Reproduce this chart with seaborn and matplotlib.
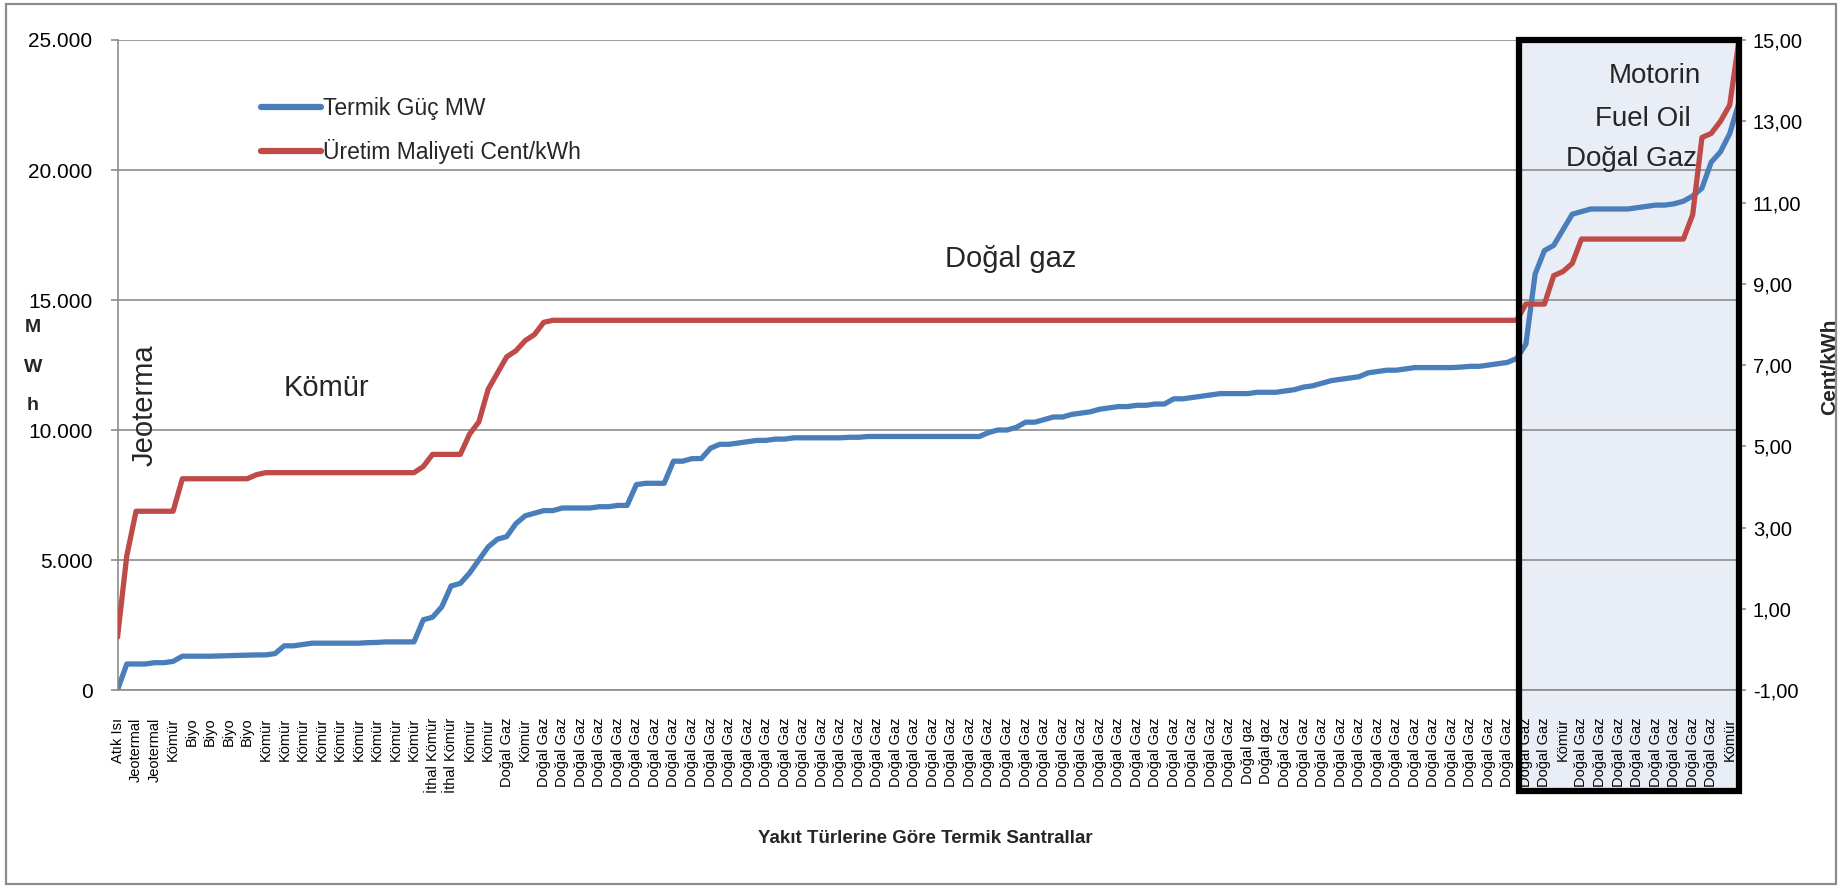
import numpy as np
import pandas as pd
import matplotlib
matplotlib.use("Agg")
import matplotlib.pyplot as plt
import seaborn as sns
from matplotlib.patches import Rectangle
from matplotlib.lines import Line2D
from matplotlib.ticker import FuncFormatter, FixedLocator

# ---------------- data ----------------
plant_labels = [
    "Atık Isı", "Jeotermal", "Jeotermal", "Kömür", "Biyo", "Biyo", "Biyo", "Biyo",
    "Kömür", "Kömür", "Kömür", "Kömür", "Kömür", "Kömür", "Kömür", "Kömür", "Kömür",
    "İthal Kömür", "İthal Kömür", "Kömür", "Kömür", "Doğal Gaz", "Kömür",
    "Doğal Gaz", "Doğal Gaz", "Doğal Gaz", "Doğal Gaz", "Doğal Gaz", "Doğal Gaz", "Doğal Gaz",
    "Doğal Gaz", "Doğal Gaz", "Doğal Gaz", "Doğal Gaz", "Doğal Gaz", "Doğal Gaz", "Doğal Gaz",
    "Doğal Gaz", "Doğal Gaz", "Doğal Gaz", "Doğal Gaz", "Doğal Gaz", "Doğal Gaz", "Doğal Gaz",
    "Doğal Gaz", "Doğal Gaz", "Doğal Gaz", "Doğal Gaz", "Doğal Gaz", "Doğal Gaz", "Doğal Gaz",
    "Doğal Gaz", "Doğal Gaz", "Doğal Gaz", "Doğal Gaz", "Doğal Gaz", "Doğal Gaz", "Doğal Gaz",
    "Doğal Gaz", "Doğal Gaz", "Doğal Gaz",
    "Doğal gaz", "Doğal gaz",
    "Doğal Gaz", "Doğal Gaz", "Doğal Gaz", "Doğal Gaz", "Doğal Gaz", "Doğal Gaz", "Doğal Gaz",
    "Doğal Gaz", "Doğal Gaz", "Doğal Gaz", "Doğal Gaz", "Doğal Gaz", "Doğal Gaz", "Doğal Gaz",
    "Doğal Gaz",
    "Kömür",
    "Doğal Gaz", "Doğal Gaz", "Doğal Gaz", "Doğal Gaz", "Doğal Gaz", "Doğal Gaz", "Doğal Gaz",
    "Doğal Gaz",
    "Kömür",
]

# cumulative thermal capacity (MW), one value per plant
power_mw = [
    0, 1000, 1000, 1000, 1050, 1050, 1100, 1300, 1300, 1300,
    1300, 1310, 1320, 1330, 1340, 1350, 1350, 1400, 1700, 1700,
    1750, 1800, 1800, 1800, 1800, 1800, 1800, 1820, 1830, 1850,
    1850, 1850, 1850, 2700, 2800, 3200, 4000, 4100, 4500, 5000,
    5500, 5800, 5900, 6400, 6700, 6800, 6900, 6900, 7000, 7000,
    7000, 7000, 7050, 7050, 7100, 7100, 7900, 7950, 7950, 7950,
    8800, 8800, 8900, 8900, 9300, 9450, 9450, 9500, 9550, 9600,
    9600, 9650, 9650, 9700, 9700, 9700, 9700, 9700, 9700, 9720,
    9720, 9750, 9750, 9750, 9750, 9750, 9750, 9750, 9750, 9750,
    9750, 9750, 9750, 9750, 9900, 10000, 10000, 10100, 10300, 10300,
    10400, 10500, 10500, 10600, 10650, 10700, 10800, 10850, 10900, 10900,
    10950, 10950, 11000, 11000, 11200, 11200, 11250, 11300, 11350, 11400,
    11400, 11400, 11400, 11450, 11450, 11450, 11500, 11550, 11650, 11700,
    11800, 11900, 11950, 12000, 12050, 12200, 12250, 12300, 12300, 12350,
    12400, 12400, 12400, 12400, 12400, 12420, 12450, 12450, 12500, 12550,
    12600, 12750, 13300, 16000, 16900, 17100, 17700, 18300, 18400, 18500,
    18500, 18500, 18500, 18500, 18550, 18600, 18650, 18650, 18700, 18800,
    19000, 19300, 20300, 20700, 21400, 22600,
]

# production cost (cent/kWh), one value per plant
cost_cent = [
    0.3, 2.3, 3.4, 3.4, 3.4, 3.4, 3.4, 4.2, 4.2, 4.2,
    4.2, 4.2, 4.2, 4.2, 4.2, 4.3, 4.35, 4.35, 4.35, 4.35,
    4.35, 4.35, 4.35, 4.35, 4.35, 4.35, 4.35, 4.35, 4.35, 4.35,
    4.35, 4.35, 4.35, 4.5, 4.8, 4.8, 4.8, 4.8, 5.3, 5.6,
    6.4, 6.8, 7.2, 7.35, 7.6, 7.75, 8.05, 8.1, 8.1, 8.1,
    8.1, 8.1, 8.1, 8.1, 8.1, 8.1, 8.1, 8.1, 8.1, 8.1,
    8.1, 8.1, 8.1, 8.1, 8.1, 8.1, 8.1, 8.1, 8.1, 8.1,
    8.1, 8.1, 8.1, 8.1, 8.1, 8.1, 8.1, 8.1, 8.1, 8.1,
    8.1, 8.1, 8.1, 8.1, 8.1, 8.1, 8.1, 8.1, 8.1, 8.1,
    8.1, 8.1, 8.1, 8.1, 8.1, 8.1, 8.1, 8.1, 8.1, 8.1,
    8.1, 8.1, 8.1, 8.1, 8.1, 8.1, 8.1, 8.1, 8.1, 8.1,
    8.1, 8.1, 8.1, 8.1, 8.1, 8.1, 8.1, 8.1, 8.1, 8.1,
    8.1, 8.1, 8.1, 8.1, 8.1, 8.1, 8.1, 8.1, 8.1, 8.1,
    8.1, 8.1, 8.1, 8.1, 8.1, 8.1, 8.1, 8.1, 8.1, 8.1,
    8.1, 8.1, 8.1, 8.1, 8.1, 8.1, 8.1, 8.1, 8.1, 8.1,
    8.1, 8.1, 8.5, 8.5, 8.5, 9.2, 9.3, 9.5, 10.1, 10.1,
    10.1, 10.1, 10.1, 10.1, 10.1, 10.1, 10.1, 10.1, 10.1, 10.1,
    10.7, 12.6, 12.7, 13.0, 13.4, 15.0,
]

left_ticks = [0, 5000, 10000, 15000, 20000, 25000]
right_ticks = [-1, 1, 3, 5, 7, 9, 11, 13, 15]

series_names = ["Termik Güç MW", "Üretim Maliyeti Cent/kWh"]
region_labels = ["Jeoterma", "Kömür", "Doğal gaz"]
box_labels = ["Motorin", "Fuel Oil", "Doğal Gaz"]

# ---------------- style ----------------
sns.set_theme(style="white")
FONT = ["Liberation Sans", "DejaVu Sans"]
plt.rcParams["font.family"] = FONT

BLUE = "#4A7EBB"
RED = "#BE4B48"
GRID = "#8C8C8C"

W, H = 1843, 888
fig = plt.figure(figsize=(W / 100, H / 100), dpi=100)
fig.patch.set_facecolor("white")


def fx(px):
    return px / W


def fy(py):
    return 1 - py / H


left_px, right_px, top_px, bottom_px = 117.5, 1739, 40, 690
ax = fig.add_axes([fx(left_px), fy(bottom_px), fx(right_px - left_px), (bottom_px - top_px) / H])
ax.set_facecolor("none")

df = pd.DataFrame({
    "idx": np.arange(len(power_mw)),
    "power": power_mw,
    "cost": cost_cent,
})

sns.lineplot(data=df, x="idx", y="power", ax=ax, color=BLUE, lw=3.8, legend=False)
ax.set_xlim(0, len(power_mw) - 1)
ax.set_ylim(0, 25000)
ax.yaxis.set_major_locator(FixedLocator(left_ticks))
ax.yaxis.set_major_formatter(FuncFormatter(lambda v, p: f"{int(v):,}".replace(",", ".")))
ax.grid(axis="y", color=GRID, lw=1.2)
ax.grid(axis="x", visible=False)
ax.set_axisbelow(True)
for s in ["top", "right"]:
    ax.spines[s].set_visible(False)
for s in ["left", "bottom"]:
    ax.spines[s].set_color(GRID)
    ax.spines[s].set_linewidth(1.2)
ax.tick_params(axis="y", which="major", direction="out", length=5, width=1.2,
               color=GRID, pad=13, labelsize=15, labelcolor="black", left=True)
ax.set_xticks(np.arange(0, 2 * len(plant_labels), 2))
ax.set_xticklabels(plant_labels, rotation=90, fontsize=10.5, color="black")
ax.tick_params(axis="x", length=0, pad=20)
ax.set_xlabel("")
ax.set_ylabel("")

ax2 = ax.twinx()
ax2.set_facecolor("none")
sns.lineplot(data=df, x="idx", y="cost", ax=ax2, color=RED, lw=3.8, legend=False)
ax2.set_ylim(-1, 15)
ax2.yaxis.set_major_locator(FixedLocator(right_ticks))
ax2.yaxis.set_major_formatter(FuncFormatter(lambda v, p: f"{v:.2f}".replace(".", ",")))
ax2.grid(False)
for s in ["top", "left", "bottom", "right"]:
    ax2.spines[s].set_visible(False)
ax2.tick_params(axis="y", direction="out", length=5, width=1.2, color=GRID, pad=5,
                labelsize=14.5, labelcolor="black", right=True)
ax2.set_ylabel("")

# legend
handles = [Line2D([0], [0], color=BLUE, lw=4.5), Line2D([0], [0], color=RED, lw=4.5)]
fig.legend(handles, series_names, loc="upper left", bbox_to_anchor=(fx(261), fy(97)),
           frameon=False, fontsize=16.5, handlelength=2.6, handletextpad=0.12,
           labelspacing=0.85, borderpad=0, borderaxespad=0)

# highlighted box (fill behind transparent axes, black frame on top)
bx0, bx1, by0, by1 = 1519, 1739, 40, 791
fig.add_artist(Rectangle((fx(bx0), fy(by1)), fx(bx1 - bx0), (by1 - by0) / H,
                         transform=fig.transFigure, facecolor="#E9EEF6", edgecolor="none",
                         zorder=-1))
fig.add_artist(Rectangle((fx(bx0), fy(by1)), fx(bx1 - bx0), (by1 - by0) / H,
                         transform=fig.transFigure, facecolor="none", edgecolor="black",
                         lw=4.5, zorder=10, joinstyle="miter"))

# region annotations
fig.text(fx(145), fy(405), region_labels[0], rotation=90, ha="center", va="center", fontsize=21)
fig.text(fx(326), fy(388), region_labels[1], ha="center", va="center", fontsize=21)
fig.text(fx(1011), fy(259), region_labels[2], ha="center", va="center", fontsize=21)
fig.text(fx(1655), fy(76), box_labels[0], ha="center", va="center", fontsize=20, zorder=11)
fig.text(fx(1643), fy(119), box_labels[1], ha="center", va="center", fontsize=20, zorder=11)
fig.text(fx(1631), fy(159), box_labels[2], ha="center", va="center", fontsize=20, zorder=11)

# axis titles
for ch, yy in zip(["M", "W", "h"], [327, 367, 405]):
    fig.text(fx(33), fy(yy), ch, ha="center", va="center", fontsize=14, fontweight="bold")
fig.text(fx(1830), fy(367), "Cent/kWh", rotation=90, ha="center", va="center",
         fontsize=15, fontweight="bold")
fig.text(fx(925), fy(838), "Yakıt Türlerine Göre Termik Santrallar", ha="center",
         va="center", fontsize=13.5, fontweight="bold")

# outer chart border
fig.add_artist(Rectangle((0.003, 0.004), 0.993, 0.991, transform=fig.transFigure,
                         facecolor="none", edgecolor="#8C8C8C", lw=1.6, zorder=12))

fig.savefig("out.png", dpi=100, facecolor="white")
